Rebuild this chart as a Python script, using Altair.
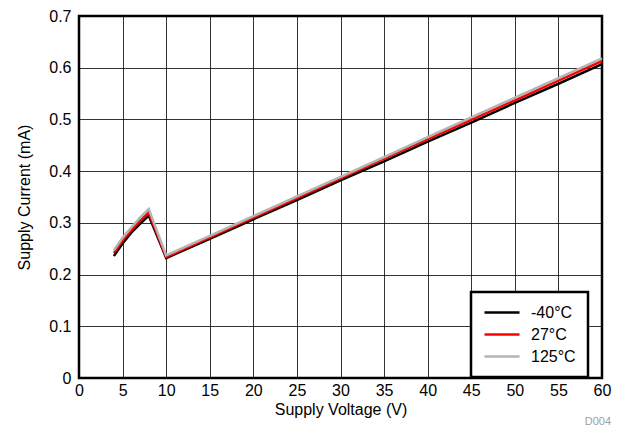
import altair as alt
import pandas as pd

voltage = [4, 5, 6, 7, 8, 10, 15, 20, 25, 30, 35, 40, 45, 50, 55, 60]
cur_m40 = [0.236, 0.260, 0.281, 0.298, 0.314, 0.232, 0.269, 0.307, 0.344, 0.382, 0.419, 0.457, 0.494, 0.532, 0.569, 0.607]
cur_27 = [0.242, 0.266, 0.286, 0.304, 0.320, 0.234, 0.272, 0.310, 0.348, 0.386, 0.424, 0.462, 0.499, 0.537, 0.575, 0.613]
cur_125 = [0.247, 0.271, 0.291, 0.310, 0.327, 0.237, 0.275, 0.313, 0.351, 0.389, 0.427, 0.466, 0.504, 0.542, 0.580, 0.618]
series = ["-40°C", "27°C", "125°C"]
colors = ["#000000", "#ff0000", "#b4b4b4"]

rows = []
for name, vals in zip(series, [cur_m40, cur_27, cur_125]):
    for v, c in zip(voltage, vals):
        rows.append({"v": v, "i": c, "temp": name})
df = pd.DataFrame(rows)

font = "Liberation Sans"

lines = alt.Chart(df).mark_line(strokeWidth=2.5).encode(
    x=alt.X("v:Q", title="Supply Voltage (V)",
            scale=alt.Scale(domain=[0, 60], nice=False),
            axis=alt.Axis(values=list(range(0, 61, 5)), tickSize=0, labelPadding=4,
                          labelFlush=False,
                          gridColor="#000000", gridOpacity=0.8, gridWidth=1,
                          domain=False, titlePadding=3)),
    y=alt.Y("i:Q", title="Supply Current (mA)",
            scale=alt.Scale(domain=[0, 0.7], nice=False),
            axis=alt.Axis(values=[0, 0.1, 0.2, 0.3, 0.4, 0.5, 0.6, 0.7], tickSize=0,
                          labelPadding=8, gridColor="#000000", gridOpacity=0.8,
                          gridWidth=1, domain=False, titlePadding=16, labelFlush=False,
                          labelExpr="datum.value == 0 ? '0' : format(datum.value, '.1f')")),
    color=alt.Color("temp:N", scale=alt.Scale(domain=series, range=colors),
                    sort=series,
                    legend=alt.Legend(title=None, orient="none", legendX=392, legendY=276,
                                      symbolType="M-1,0H4",
                                      symbolStrokeWidth=2.5, symbolSize=196,
                                      labelFontSize=16, labelFont=font,
                                      labelColor="#000000", labelOffset=31,
                                      strokeColor="#000000", fillColor="#ffffff",
                                      padding=12, rowPadding=5)),
    order=alt.Order("v:Q"),
)

note = alt.Chart(pd.DataFrame({"t": ["D004"]})).mark_text(
    fontSize=11, font=font, color="#a0a0a0", align="right", baseline="middle"
).encode(x=alt.value(532), y=alt.value(406), text="t:N")

chart = alt.layer(lines, note).properties(
    width=523, height=362,
    autosize=alt.AutoSizeParams(type="none"),
    padding={"left": 71, "top": 8, "right": 11, "bottom": 52},
).configure(font=font).configure_view(
    stroke="#000000", strokeWidth=2.5
).configure_axis(
    labelFont=font, titleFont=font, labelFontSize=16, titleFontSize=16,
    labelColor="#000000", titleColor="#000000", titleFontWeight="normal"
).configure_legend(
    strokeWidth=2.5, cornerRadius=0
)

chart.save("out.html", embed_options={"renderer": "svg", "actions": False})
